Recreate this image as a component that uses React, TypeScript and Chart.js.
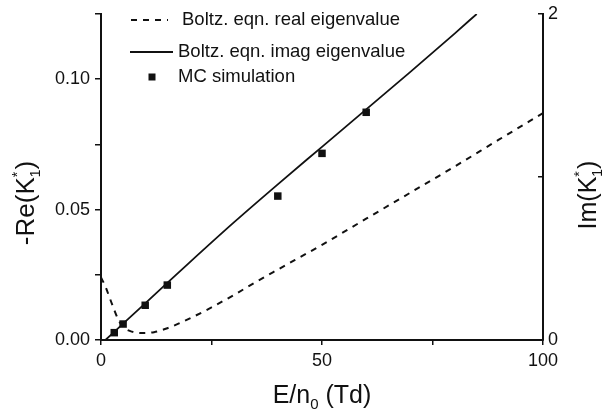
import React, { useEffect, useRef } from 'react';
import { Chart, registerables } from 'chart.js';

Chart.register(...registerables);

// ---- data ----
const reX = [0, 1, 2, 3, 4, 5, 7, 9, 12, 15, 20, 25, 30, 35, 40, 50, 60, 70, 80, 90, 100];
const reY = [0.024, 0.0205, 0.016, 0.0115, 0.0075, 0.005, 0.0032, 0.0027, 0.003, 0.0045, 0.0082, 0.0125, 0.0172, 0.0222, 0.027, 0.0365, 0.0465, 0.0565, 0.0665, 0.0768, 0.087];

const imX = [1, 5, 10, 15, 20, 30, 40, 50, 60, 70, 80, 85];
const imY = [0, 0.1, 0.225, 0.35, 0.475, 0.72, 0.955, 1.185, 1.415, 1.645, 1.88, 2.0];

const mcX = [3, 5, 10, 15, 40, 50, 60];
const mcY = [0.045, 0.098, 0.213, 0.337, 0.883, 1.145, 1.397];

const xTickLabels = [0, 50, 100];
const reTickLabels = [0, 0.05, 0.1];
const imTickLabels = [0, 2];

const seriesLabels = ['Boltz. eqn. real eigenvalue', 'Boltz. eqn. imag eigenvalue', 'MC simulation'];

const FONT = "'Liberation Sans', Arial, Helvetica, sans-serif";
const INK = '#111';

type Part = { t: string; size: number; dy?: number; stack?: boolean };

function drawRich(ctx: CanvasRenderingContext2D, parts: Part[], x: number, y: number, angle: number) {
  ctx.save();
  ctx.translate(x, y);
  ctx.rotate(angle);
  const widths = parts.map((p) => {
    ctx.font = `${p.size}px ${FONT}`;
    return ctx.measureText(p.t).width;
  });
  let total = 0;
  let lastW = 0;
  parts.forEach((p, i) => {
    if (p.stack) {
      const extra = Math.max(0, widths[i] - lastW);
      total += extra;
      lastW = Math.max(lastW, widths[i]);
    } else {
      total += widths[i];
      lastW = widths[i];
    }
  });
  let cx = -total / 2;
  let start = cx;
  lastW = 0;
  ctx.fillStyle = INK;
  ctx.textBaseline = 'alphabetic';
  ctx.textAlign = 'left';
  parts.forEach((p, i) => {
    ctx.font = `${p.size}px ${FONT}`;
    if (p.stack) {
      ctx.fillText(p.t, start, p.dy || 0);
      const w = Math.max(lastW, widths[i]);
      cx = start + w;
      lastW = w;
    } else {
      start = cx;
      ctx.fillText(p.t, cx, p.dy || 0);
      cx += widths[i];
      lastW = widths[i];
    }
  });
  ctx.restore();
}

const annotations = {
  id: 'annotations',
  afterDraw(chart: any) {
    const ctx: CanvasRenderingContext2D = chart.ctx;
    const a = chart.chartArea;
    ctx.save();
    // axis titles
    drawRich(
      ctx,
      [
        { t: 'E/n', size: 25 },
        { t: '0', size: 15, dy: 6 },
        { t: ' (Td)', size: 25 },
      ],
      (a.left + a.right) / 2,
      403,
      0
    );
    drawRich(
      ctx,
      [
        { t: '-Re(K', size: 26 },
        { t: '1', size: 14, dy: 6 },
        { t: '*', size: 14, dy: -12, stack: true },
        { t: ')', size: 26 },
      ],
      34,
      203,
      -Math.PI / 2
    );
    drawRich(
      ctx,
      [
        { t: 'Im(K', size: 25 },
        { t: '1', size: 14, dy: 6 },
        { t: '*', size: 14, dy: -12, stack: true },
        { t: ')', size: 25 },
      ],
      596,
      195,
      -Math.PI / 2
    );

    // legend
    const lx = a.left;
    ctx.strokeStyle = INK;
    ctx.lineWidth = 2;
    ctx.setLineDash([6, 6]);
    ctx.beginPath();
    ctx.moveTo(lx + 30, 20);
    ctx.lineTo(lx + 67, 20);
    ctx.stroke();
    ctx.setLineDash([]);
    ctx.beginPath();
    ctx.moveTo(lx + 29, 52);
    ctx.lineTo(lx + 72, 52);
    ctx.stroke();
    ctx.fillStyle = INK;
    ctx.fillRect(lx + 51 - 3.5, 77 - 3.5, 7, 7);
    ctx.font = `18.5px ${FONT}`;
    ctx.textBaseline = 'middle';
    ctx.textAlign = 'left';
    ctx.fillText(seriesLabels[0], lx + 81, 20);
    ctx.fillText(seriesLabels[1], lx + 77, 52);
    ctx.fillText(seriesLabels[2], lx + 77, 77);
    ctx.restore();
  },
};

export default function App() {
  const ref = useRef<HTMLCanvasElement | null>(null);

  useEffect(() => {
    if (!ref.current) return;
    const tickFont = { family: FONT, size: 18 };
    const chart = new Chart(ref.current, {
      type: 'line',
      data: {
        datasets: [
          {
            label: seriesLabels[0],
            data: reX.map((x, i) => ({ x, y: reY[i] })),
            yAxisID: 'yRe',
            borderColor: INK,
            borderWidth: 2,
            borderDash: [6, 6],
            pointRadius: 0,
            cubicInterpolationMode: 'monotone',
            fill: false,
          },
          {
            label: seriesLabels[1],
            data: imX.map((x, i) => ({ x, y: imY[i] })),
            yAxisID: 'yIm',
            borderColor: INK,
            borderWidth: 1.8,
            pointRadius: 0,
            cubicInterpolationMode: 'monotone',
            fill: false,
          },
          {
            label: seriesLabels[2],
            data: mcX.map((x, i) => ({ x, y: mcY[i] })),
            yAxisID: 'yIm',
            showLine: false,
            pointStyle: 'rect',
            pointRadius: 5.3,
            pointBackgroundColor: INK,
            pointBorderColor: INK,
            pointBorderWidth: 0,
          },
        ],
      },
      options: {
        responsive: false,
        animation: false,
        devicePixelRatio: 1,
        layout: { padding: { top: 14, left: 0, right: 0, bottom: 0 } },
        plugins: { legend: { display: false }, tooltip: { enabled: false } },
        scales: {
          x: {
            type: 'linear',
            min: 0,
            max: 100,
            ticks: {
              stepSize: 25,
              color: INK,
              font: tickFont,
              padding: 5,
              maxRotation: 0,
              callback: (v: any) => (xTickLabels.includes(Number(v)) ? String(v) : ''),
            },
            grid: { drawOnChartArea: false, tickLength: 5, color: INK, lineWidth: 1.5 },
            border: { color: INK, width: 2 },
            afterFit: (s: any) => {
              s.height = 76;
              s.paddingLeft = 0;
              s.paddingRight = 0;
            },
          },
          yRe: {
            type: 'linear',
            position: 'left',
            min: 0,
            max: 0.125,
            ticks: {
              stepSize: 0.025,
              color: INK,
              font: tickFont,
              padding: 5,
              callback: (v: any) =>
                reTickLabels.some((t) => Math.abs(t - Number(v)) < 1e-9) ? Number(v).toFixed(2) : '',
            },
            grid: { drawOnChartArea: false, tickLength: 6, color: INK, lineWidth: 1.5 },
            border: { color: INK, width: 2 },
            afterFit: (s: any) => {
              s.width = 101;
              s.paddingTop = 0;
              s.paddingBottom = 0;
            },
          },
          yIm: {
            type: 'linear',
            position: 'right',
            min: 0,
            max: 2,
            ticks: {
              stepSize: 1,
              color: INK,
              font: tickFont,
              padding: 10,
              callback: (v: any) => (imTickLabels.includes(Number(v)) ? String(v) : ''),
            },
            grid: { drawOnChartArea: false, tickLength: -5, color: INK, lineWidth: 1.5 },
            border: { color: INK, width: 2 },
            afterFit: (s: any) => {
              s.width = 60;
              s.paddingTop = 0;
              s.paddingBottom = 0;
            },
          },
        },
      },
      plugins: [annotations],
    });
    return () => chart.destroy();
  }, []);

  return (
    <div style={{ position: 'fixed', left: 0, top: 0, width: 603, height: 416, background: '#fff' }}>
      <canvas ref={ref} width={603} height={416} style={{ width: 603, height: 416 }} />
    </div>
  );
}
